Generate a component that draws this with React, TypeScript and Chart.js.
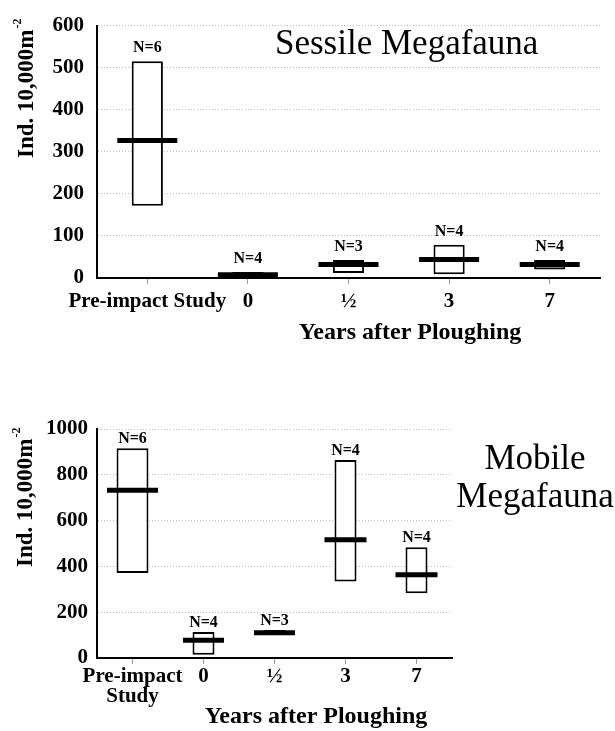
import React, { useEffect, useRef } from 'react';
import { Chart, registerables } from 'chart.js';

Chart.register(...registerables);

const FONT = "'Liberation Serif', 'Times New Roman', Times, serif";

// ---- data ----
const categoriesSessile = ['Pre-impact Study', '0', '½', '3', '7'];
const categoriesMobile: (string | string[])[] = [['Pre-impact', 'Study'], '0', '½', '3', '7'];

const sessileLow = [172, 2, 12, 9, 20];
const sessileHigh = [515, 14, 43, 79, 43];
const sessileMedian = [327, 8, 32, 44, 32];
const sessileN = ['N=6', 'N=4', 'N=3', 'N=4', 'N=4'];

const mobileLow = [371, 14, 100, 334, 283];
const mobileHigh = [916, 113, 122, 865, 484];
const mobileMedian = [733, 77, 110, 516, 363];
const mobileN = ['N=6', 'N=4', 'N=3', 'N=4', 'N=4'];

const sessileYMax = 600;
const sessileYStep = 100;
const mobileYMax = 1000;
const mobileYStep = 200;

const yTitleMain = 'Ind. 10,000m';
const yTitleSup = '-2';
const xTitle = 'Years after Ploughing';
const sessileTitle = ['Sessile Megafauna'];
const mobileTitle = ['Mobile', 'Megafauna'];

// ---- styles ----
const sessileFill = ['#ffffff', '#ffffff', '#ffffff', '#ffffff', '#8a8a8a'];
const mobileFill = ['#ffffff', '#ffffff', '#ffffff', '#ffffff', '#ffffff'];

type Panel = {
  labels: (string | string[])[];
  low: number[];
  high: number[];
  median: number[];
  nLabels: string[];
  fill: string[];
  yMax: number;
  yStep: number;
  width: number;
  height: number;
  pad: { top: number; right: number };
  plotBottom: number;
  yAxisWidth: number;
  yTickPad: number;
  xTickPad: number;
  xTickLineHeight: number;
  firstBarPct: number;
  otherBarPct: number;
  medianRadius: number[];
  nGap: number;
  xTitlePos: [number, number];
  yTitlePos: [number, number];
  title: string[];
  titlePos: [number, number];
  titleAlign: CanvasTextAlign;
  titleLineGap: number;
};

const annotate = (p: Panel) => ({
  id: 'annotate',
  afterDatasetsDraw(chart: any) {
    const ctx = chart.ctx as CanvasRenderingContext2D;
    const xs = chart.scales.x;
    const ys = chart.scales.y;
    ctx.save();
    ctx.fillStyle = '#000';
    ctx.textAlign = 'center';
    ctx.textBaseline = 'alphabetic';
    ctx.font = `bold 16px ${FONT}`;
    p.nLabels.forEach((t, i) => {
      ctx.fillText(t, xs.getPixelForValue(i), ys.getPixelForValue(p.high[i]) - p.nGap);
    });
    ctx.font = `bold 24px ${FONT}`;
    ctx.fillText(xTitle, p.xTitlePos[0], p.xTitlePos[1]);
    ctx.font = `35px ${FONT}`;
    ctx.textAlign = p.titleAlign;
    p.title.forEach((line, i) => {
      ctx.fillText(line, p.titlePos[0], p.titlePos[1] + i * p.titleLineGap);
    });
    // rotated y-axis title with superscript
    ctx.translate(p.yTitlePos[0], p.yTitlePos[1]);
    ctx.rotate(-Math.PI / 2);
    ctx.textAlign = 'left';
    ctx.font = `bold 23px ${FONT}`;
    ctx.fillText(yTitleMain, 0, 0);
    const w = ctx.measureText(yTitleMain).width;
    ctx.font = `bold 12px ${FONT}`;
    ctx.fillText(yTitleSup, w + 1, -12);
    ctx.restore();
  },
});

function buildConfig(p: Panel): any {
  const idx = p.labels.map((_, i) => i);
  const boxes = (pick: (i: number) => boolean) =>
    idx.map((i) => (pick(i) ? [p.low[i], p.high[i]] : null));
  const barCommon = {
    type: 'bar',
    grouped: false,
    categoryPercentage: 1,
    backgroundColor: p.fill,
    borderColor: '#000',
    borderWidth: 2,
    borderSkipped: false,
    order: 1,
  };
  return {
    type: 'bar',
    data: {
      labels: p.labels,
      datasets: [
        {
          type: 'line',
          data: p.median,
          showLine: false,
          pointStyle: 'line',
          pointRadius: p.medianRadius,
          pointHoverRadius: p.medianRadius,
          pointBorderColor: '#000',
          pointBorderWidth: 5,
          pointHoverBorderWidth: 5,
          borderColor: '#000',
          clip: false,
          order: 0,
        },
        { ...barCommon, data: boxes((i) => i === 0), barPercentage: p.firstBarPct },
        { ...barCommon, data: boxes((i) => i !== 0), barPercentage: p.otherBarPct },
      ],
    },
    options: {
      responsive: false,
      animation: false,
      events: [],
      layout: {
        autoPadding: false,
        padding: { top: p.pad.top, right: p.pad.right, left: 0, bottom: 0 },
      },
      plugins: { legend: { display: false }, tooltip: { enabled: false }, title: { display: false } },
      scales: {
        x: {
          type: 'category',
          offset: true,
          afterFit: (s: any) => {
            s.height = p.height - p.plotBottom;
            s.paddingLeft = 0;
            s.paddingRight = 0;
          },
          grid: {
            display: true,
            drawOnChartArea: false,
            drawTicks: true,
            tickLength: 6,
            color: '#999',
            offset: false,
          },
          border: { display: true, color: '#000', width: 2 },
          ticks: {
            color: '#000',
            autoSkip: false,
            maxRotation: 0,
            minRotation: 0,
            padding: p.xTickPad,
            font: { family: FONT, size: 21, weight: 'bold', lineHeight: p.xTickLineHeight },
          },
        },
        y: {
          min: 0,
          max: p.yMax,
          afterFit: (s: any) => {
            s.width = p.yAxisWidth;
          },
          grid: { color: '#bdbdbd', lineWidth: 1, drawTicks: false },
          border: { display: true, color: '#000', width: 2, dash: [1, 2] },
          ticks: {
            stepSize: p.yStep,
            color: '#000',
            padding: p.yTickPad,
            callback: (v: any) => String(v),
            font: { family: FONT, size: 21, weight: 'bold' },
          },
          title: { display: false },
        },
      },
    },
    plugins: [annotate(p)],
  };
}

const sessilePanel: Panel = {
  labels: categoriesSessile,
  low: sessileLow,
  high: sessileHigh,
  median: sessileMedian,
  nLabels: sessileN,
  fill: sessileFill,
  yMax: sessileYMax,
  yStep: sessileYStep,
  width: 615,
  height: 350,
  pad: { top: 24, right: 15 },
  plotBottom: 278,
  yAxisWidth: 97,
  yTickPad: 13,
  xTickPad: 5,
  xTickLineHeight: 1.2,
  firstBarPct: 0.31,
  otherBarPct: 0.31,
  medianRadius: [30, 30, 30, 30, 30],
  nGap: 9,
  xTitlePos: [410, 339],
  yTitlePos: [33, 158],
  title: sessileTitle,
  titlePos: [275, 54],
  titleAlign: 'left',
  titleLineGap: 38,
};

const mobilePanel: Panel = {
  labels: categoriesMobile,
  low: mobileLow,
  high: mobileHigh,
  median: mobileMedian,
  nLabels: mobileN,
  fill: mobileFill,
  yMax: mobileYMax,
  yStep: mobileYStep,
  width: 615,
  height: 351,
  pad: { top: 49, right: 163 },
  plotBottom: 278,
  yAxisWidth: 97,
  yTickPad: 9,
  xTickPad: 3,
  xTickLineHeight: 0.95,
  firstBarPct: 0.45,
  otherBarPct: 0.31,
  medianRadius: [25.5, 20.5, 20.5, 21, 21],
  nGap: 5,
  xTitlePos: [316, 343],
  yTitlePos: [32, 187],
  title: mobileTitle,
  titlePos: [535, 89],
  titleAlign: 'center',
  titleLineGap: 38,
};

function PanelChart({ panel, top }: { panel: Panel; top: number }) {
  const ref = useRef<HTMLCanvasElement | null>(null);
  useEffect(() => {
    if (!ref.current) return;
    const chart = new Chart(ref.current, buildConfig(panel));
    return () => chart.destroy();
  }, [panel]);
  return (
    <canvas
      ref={ref}
      width={panel.width}
      height={panel.height}
      style={{ position: 'absolute', left: 0, top, width: panel.width, height: panel.height }}
    />
  );
}

export default function App() {
  return (
    <div
      style={{
        position: 'absolute',
        left: 0,
        top: 0,
        width: 615,
        height: 731,
        background: '#fff',
        overflow: 'hidden',
      }}
    >
      <PanelChart panel={sessilePanel} top={0} />
      <PanelChart panel={mobilePanel} top={380} />
    </div>
  );
}
